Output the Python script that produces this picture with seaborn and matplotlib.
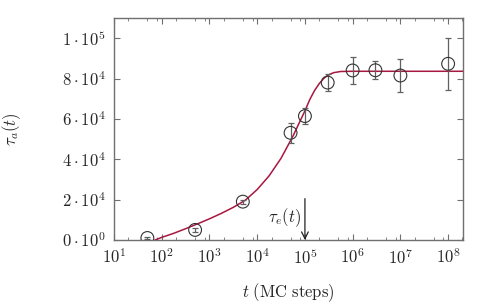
import numpy as np
import pandas as pd
import matplotlib
matplotlib.use("Agg")
import matplotlib.pyplot as plt
import matplotlib.ticker as mticker
import seaborn as sns

# measured points
t_points = [50, 500, 5000, 5e4, 1e5, 3e5, 1e6, 3e6, 1e7, 1e8]
tau_points = [1000, 5000, 19000, 53100, 61400, 78000, 84000, 84100, 81500, 87300]
tau_err = [300, 800, 1000, 5000, 3900, 4200, 6700, 4400, 8200, 12900]

# fitted curve (log10 t, tau)
curve_logt = [1.86, 2.0, 2.25, 2.5, 2.75, 3.0, 3.25, 3.5, 3.75, 4.0, 4.25, 4.5,
              4.75, 5.0, 5.1, 5.2, 5.3, 5.4, 5.5, 5.6, 5.75, 6.0, 7.0, 8.31]
curve_tau = [0, 1300, 3300, 5600, 8000, 10500, 13200, 16200, 19700, 25000, 31800,
             40500, 51500, 64000, 69500, 74000, 77500, 80200, 81900, 82900, 83500,
             83600, 83600, 83600]

ytick_vals = [0, 2e4, 4e4, 6e4, 8e4, 1e5]
ytick_labels = [r"$0\cdot10^0$", r"$2\cdot10^4$", r"$4\cdot10^4$", r"$6\cdot10^4$",
                r"$8\cdot10^4$", r"$1\cdot10^5$"]
xtick_vals = [1e1, 1e2, 1e3, 1e4, 1e5, 1e6, 1e7, 1e8]
xtick_labels = [r"$10^{%d}$" % k for k in range(1, 9)]

sns.set_style("ticks")
plt.rcParams["mathtext.fontset"] = "cm"
plt.rcParams["font.family"] = ["DejaVu Serif"]

fig = plt.figure(figsize=(4.88, 3.05), dpi=100)
ax = fig.add_axes([114/488, 1-240/305, (463-114)/488, (240-18)/305])

curve = pd.DataFrame({"t": 10**np.array(curve_logt), "tau": curve_tau})
sns.lineplot(data=curve, x="t", y="tau", ax=ax, color="#a8173f", lw=1.1, zorder=3)

ax.errorbar(t_points, tau_points, yerr=tau_err, fmt="none", ecolor="#606060",
            elinewidth=0.9, capsize=2.5, capthick=0.9, zorder=4)
pts = pd.DataFrame({"t": t_points, "tau": tau_points})
sns.scatterplot(data=pts, x="t", y="tau", ax=ax, marker="o", s=85,
                facecolor="none", edgecolor="#333333", linewidth=0.8, zorder=5)

ax.set_xscale("log")
ax.set_xlim(10, 2.05e8)
ax.set_ylim(0, 1.1e5)

ax.set_xticks(xtick_vals)
ax.set_xticklabels(xtick_labels)
ax.xaxis.set_minor_locator(mticker.LogLocator(base=10, subs=[2, 5, 8], numticks=20))
ax.xaxis.set_minor_formatter(mticker.NullFormatter())
ax.set_yticks(ytick_vals)
ax.set_yticklabels(ytick_labels)

ax.tick_params(axis="both", which="major", direction="in", length=4, width=0.8,
               color="#707070", labelsize=12, top=True, right=True, pad=6)
ax.tick_params(axis="x", which="minor", direction="in", length=2, width=0.6,
               color="#707070", top=True)
ax.tick_params(axis="y", which="minor", left=False, right=False)
for s in ax.spines.values():
    s.set_color("#707070")
    s.set_linewidth(1.0)

ax.set_xlabel(r"$t\ \mathrm{(MC\ steps)}$", fontsize=12)
ax.set_ylabel(r"$\tau_a(t)$", fontsize=12)
ax.xaxis.set_label_coords(0.5, -(281 - 240) / 222)
ax.yaxis.set_label_coords(-(114 - 23) / 349, 0.5)

ax.annotate("", xy=(1e5, 0), xytext=(1e5, 20500),
            arrowprops=dict(arrowstyle="->", color="#222222", lw=0.9,
                            shrinkA=0, shrinkB=0, mutation_scale=12))
ax.text(8.5e4, 11000, r"$\tau_e(t)$", fontsize=12, ha="right", va="center")

fig.savefig("out.png", dpi=100)
